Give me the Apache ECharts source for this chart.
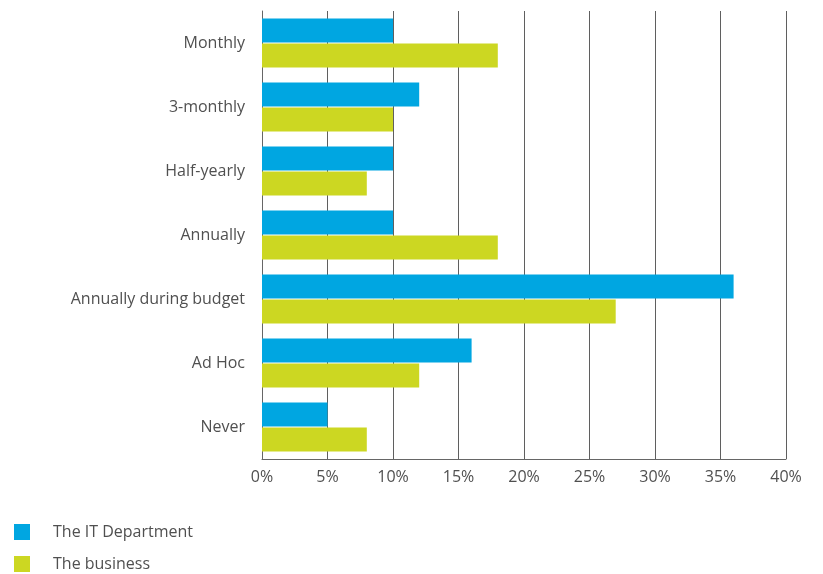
<!DOCTYPE html>
<html>
<head>
<meta charset="utf-8">
<script src="https://cdn.jsdelivr.net/npm/echarts@6/dist/echarts.min.js"></script>
<style>
  html, body { margin: 0; padding: 0; background: #fff; }
  #chart { width: 823px; height: 574px; }
</style>
</head>
<body>
<div id="chart"></div>
<script>
// Review frequency by respondent group (percent)
const categories = ['Monthly', '3-monthly', 'Half-yearly', 'Annually', 'Annually during budget', 'Ad Hoc', 'Never'];
const itDepartment = [10, 12, 10, 10, 36, 16, 5];
const business = [18, 10, 8, 18, 27, 12, 8];
const seriesNames = ['The IT Department', 'The business'];

const textColor = '#505050';
const fontFamily = '"Open Sans", "Noto Sans", sans-serif';

// one legend row per series, stacked vertically under the plot
function legendRow(name, top) {
  return {
    orient: 'horizontal',
    left: 14,
    top: top,
    padding: 0,
    itemWidth: 16,
    itemHeight: 16,
    icon: 'rect',
    textStyle: { color: textColor, fontSize: 16, fontFamily: fontFamily, padding: [0, 0, 0, 18] },
    data: [name]
  };
}

const chart = echarts.init(document.getElementById('chart'));
chart.setOption({
  animation: false,
  textStyle: { fontFamily: fontFamily },
  grid: { left: 262, right: 37, top: 11, bottom: 115, containLabel: false },
  legend: [legendRow(seriesNames[0], 524), legendRow(seriesNames[1], 556)],
  xAxis: {
    type: 'value',
    min: 0,
    max: 40,
    interval: 5,
    axisLine: { show: true, lineStyle: { color: '#666', width: 1 } },
    axisTick: { show: false },
    axisLabel: { formatter: '{value}%', color: textColor, fontSize: 16, margin: 10 },
    splitLine: { show: true, lineStyle: { color: '#5f5f5f', width: 1 } }
  },
  yAxis: {
    type: 'category',
    inverse: true,
    data: categories,
    axisLine: { show: true, lineStyle: { color: '#666', width: 1 } },
    axisTick: { show: false },
    axisLabel: { color: textColor, fontSize: 16, margin: 17, padding: [8, 0, 0, 0] }
  },
  series: [
    {
      name: seriesNames[0],
      type: 'bar',
      data: itDepartment,
      barWidth: 24,
      barGap: '4%',
      itemStyle: { color: '#00A6E1' }
    },
    {
      name: seriesNames[1],
      type: 'bar',
      data: business,
      barWidth: 24,
      itemStyle: { color: '#CCD722' }
    }
  ]
});
</script>
</body>
</html>
